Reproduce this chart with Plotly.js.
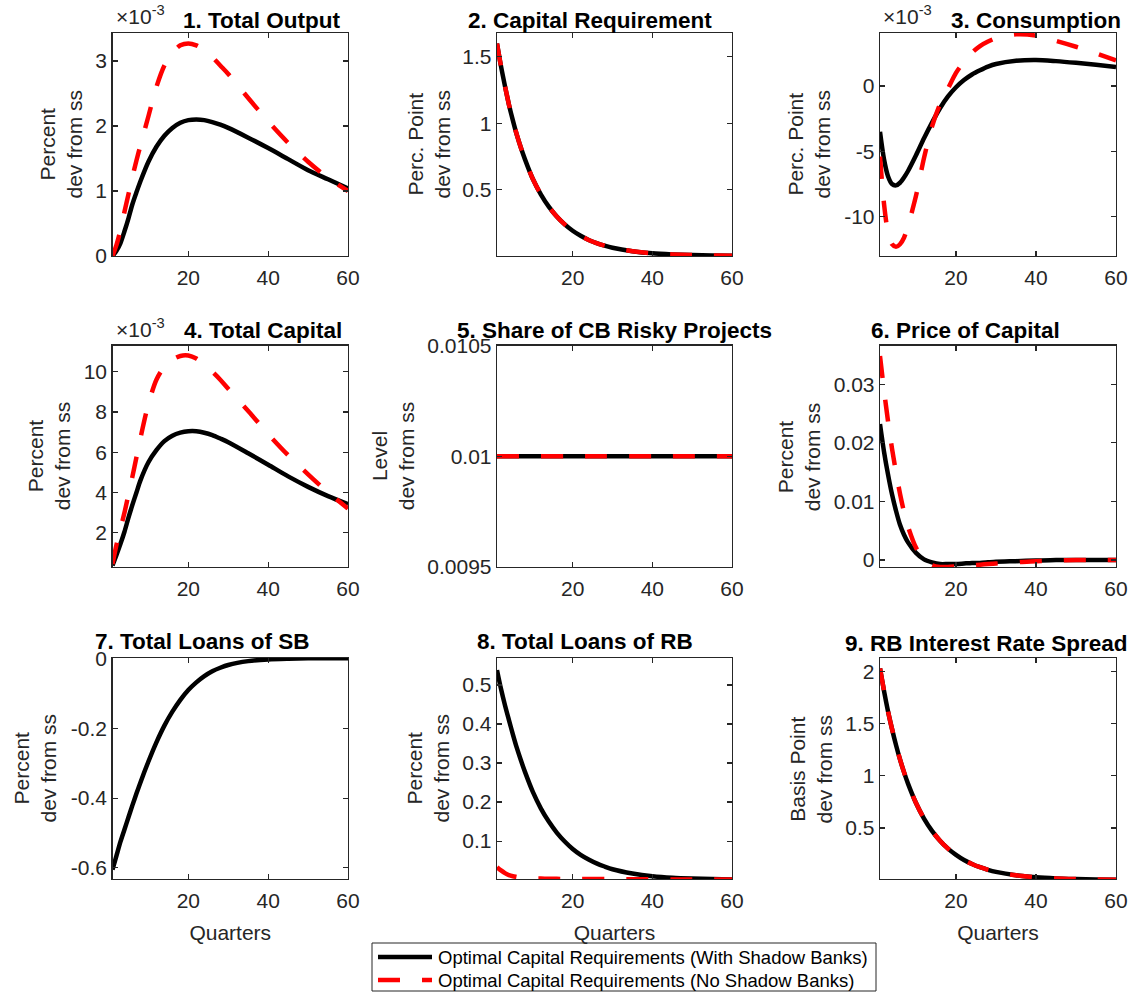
<!DOCTYPE html>
<html>
<head>
<meta charset="utf-8">
<script src="https://cdn.plot.ly/plotly-3.0.1.min.js"></script>
<style>html,body{margin:0;padding:0;background:#fff;}#chart{width:1133px;height:993px;}</style>
</head>
<body>
<div id="chart"></div>
<script>
// ---------------- DATA ----------------
const quarters = [1,2,3,4,5,6,7,8,10,12,14,16,18,20,22,24,26,28,30,35,40,45,50,55,60];

const seriesNames = ["Optimal Capital Requirements (With Shadow Banks)", "Optimal Capital Requirements (No Shadow Banks)"];

const panelTitles = ["1. Total Output","2. Capital Requirement","3. Consumption","4. Total Capital","5. Share of CB Risky Projects","6. Price of Capital","7. Total Loans of SB","8. Total Loans of RB","9. RB Interest Rate Spread"];
const yLabels = ["Percent<br>dev from ss","Perc. Point<br>dev from ss","Perc. Point<br>dev from ss","Percent<br>dev from ss","Level<br>dev from ss","Percent<br>dev from ss","Percent<br>dev from ss","Percent<br>dev from ss","Basis Point<br>dev from ss"];
const xLabel = "Quarters";
const xTickVals = [20,40,60];

// 1. Total Output (x 10^-3)
const outputWithSB = [0,0.08,0.2,0.38,0.58,0.8,0.98,1.15,1.45,1.68,1.85,1.97,2.05,2.09,2.1,2.09,2.06,2.02,1.97,1.82,1.66,1.49,1.32,1.18,1.04];
const outputNoSB   = [0,0.17,0.4,0.68,0.95,1.22,1.47,1.7,2.15,2.6,2.93,3.13,3.24,3.27,3.24,3.17,3.06,2.93,2.8,2.43,2.07,1.74,1.45,1.2,1.0];
// 2. Capital Requirement
const capReqWithSB = [1.6,1.43,1.28,1.14,1.02,0.91,0.815,0.73,0.58,0.465,0.372,0.297,0.238,0.19,0.152,0.121,0.097,0.078,0.062,0.036,0.02,0.012,0.007,0.004,0.002];
const capReqNoSB   = [1.6,1.43,1.28,1.14,1.02,0.91,0.815,0.73,0.58,0.465,0.372,0.297,0.238,0.19,0.152,0.121,0.097,0.078,0.062,0.036,0.02,0.012,0.007,0.004,0.002];
// 3. Consumption (x 10^-3)
const consWithSB = [-3.5,-5.6,-6.9,-7.5,-7.6,-7.4,-7.0,-6.5,-5.3,-4.0,-2.8,-1.7,-0.8,-0.1,0.45,0.88,1.2,1.48,1.68,1.93,1.99,1.9,1.77,1.62,1.45];
const consNoSB   = [-5.4,-9.0,-11.2,-12.1,-12.3,-12.1,-11.6,-10.7,-8.4,-5.5,-3.1,-1.4,-0.2,1.0,1.85,2.55,3.05,3.4,3.65,3.95,3.85,3.45,3.0,2.5,1.96];
// 4. Total Capital (x 10^-3)
const capitalWithSB = [0.38,0.9,1.45,2.05,2.75,3.4,4.0,4.6,5.5,6.1,6.55,6.82,6.97,7.04,7.04,6.97,6.85,6.68,6.5,5.95,5.38,4.8,4.28,3.82,3.42];
const capitalNoSB   = [0.45,1.4,2.2,3.0,3.9,4.8,5.75,6.7,8.4,9.6,10.25,10.6,10.78,10.8,10.65,10.35,10.0,9.6,9.15,8.05,6.9,5.85,4.9,4.0,3.2];
// 5. Share of CB Risky Projects
const shareWithSB = [0.01,0.01,0.01,0.01,0.01,0.01,0.01,0.01,0.01,0.01,0.01,0.01,0.01,0.01,0.01,0.01,0.01,0.01,0.01,0.01,0.01,0.01,0.01,0.01,0.01];
const shareNoSB   = [0.01,0.01,0.01,0.01,0.01,0.01,0.01,0.01,0.01,0.01,0.01,0.01,0.01,0.01,0.01,0.01,0.01,0.01,0.01,0.01,0.01,0.01,0.01,0.01,0.01];
// 6. Price of Capital
const priceWithSB = [0.0232,0.0185,0.0146,0.0112,0.0084,0.006,0.0043,0.003,0.0012,0.0001,-0.0004,-0.0007,-0.0007,-0.0007,-0.0006,-0.0005,-0.0005,-0.0004,-0.0003,-0.0002,-0.0001,0,0,0,0];
const priceNoSB   = [0.0348,0.029,0.0237,0.019,0.015,0.0113,0.0082,0.0057,0.0021,0.0001,-0.0009,-0.0012,-0.0012,-0.0011,-0.001,-0.0009,-0.0008,-0.0007,-0.0006,-0.0004,-0.0002,-0.0001,0,0,0];
// 7. Total Loans of SB (only with shadow banks)
const sbLoansWithSB = [-0.605,-0.565,-0.525,-0.49,-0.455,-0.42,-0.387,-0.355,-0.295,-0.24,-0.192,-0.152,-0.118,-0.09,-0.068,-0.05,-0.036,-0.026,-0.018,-0.007,-0.002,0,0.001,0.001,0.001];
// 8. Total Loans of RB
const rbLoansWithSB = [0.538,0.49,0.448,0.41,0.373,0.338,0.307,0.278,0.226,0.184,0.15,0.122,0.099,0.08,0.065,0.053,0.043,0.035,0.028,0.017,0.01,0.006,0.004,0.003,0.002];
const rbLoansNoSB   = [0.033,0.025,0.018,0.013,0.01,0.008,0.006,0.005,0.004,0.004,0.0035,0.0035,0.003,0.003,0.003,0.003,0.003,0.003,0.003,0.0025,0.0025,0.002,0.002,0.002,0.002];
// 9. RB Interest Rate Spread
const spreadWithSB = [2.03,1.815,1.62,1.45,1.295,1.157,1.035,0.925,0.739,0.59,0.472,0.377,0.301,0.241,0.192,0.154,0.123,0.098,0.078,0.045,0.026,0.015,0.009,0.005,0.003];
const spreadNoSB   = [2.03,1.815,1.62,1.45,1.295,1.157,1.035,0.925,0.739,0.59,0.472,0.377,0.301,0.241,0.192,0.154,0.123,0.098,0.078,0.045,0.026,0.015,0.009,0.005,0.003];

const panelSeries = [
  [outputWithSB, outputNoSB],
  [capReqWithSB, capReqNoSB],
  [consWithSB, consNoSB],
  [capitalWithSB, capitalNoSB],
  [shareWithSB, shareNoSB],
  [priceWithSB, priceNoSB],
  [sbLoansWithSB, null],
  [rbLoansWithSB, rbLoansNoSB],
  [spreadWithSB, spreadNoSB]
];

const yTickVals = [[0,1,2,3],[0.5,1,1.5],[-10,-5,0],[2,4,6,8,10],[0.0095,0.01,0.0105],[0,0.01,0.02,0.03],[-0.6,-0.4,-0.2,0],[0.1,0.2,0.3,0.4,0.5],[0.5,1,1.5,2]];
const yTickText = [["0","1","2","3"],["0.5","1","1.5"],["-10","-5","0"],["2","4","6","8","10"],["0.0095","0.01","0.0105"],["0","0.01","0.02","0.03"],["-0.6","-0.4","-0.2","0"],["0.1","0.2","0.3","0.4","0.5"],["0.5","1","1.5","2"]];
const yRanges = [[0,3.43],[0,1.68],[-13,4.05],[0.3,11.3],[0.0095,0.0105],[-0.0012,0.0366],[-0.632,0.002],[0.003,0.569],[0.01,2.13]];
const exponentPanels = [0,2,3];

// ---------------- LAYOUT ----------------
const W = 1133, H = 993;
const colPx = [[112.5,348],[497,732],[880,1116]];
const rowPx = [[33,256],[345.5,567],[658,879]];
const titlePos = [[262,20],[590,20],[1036,20],[263,331],[614,331],[965,331],[202,641],[585,641],[986,643]];
const yLabelX = [60,428,808,49,393,799,34,427,810];
const px = v => v / W;
const py = v => 1 - v / H;
const FONT = "Liberation Sans, Arial, Helvetica, sans-serif";
const AXC = "#262626";
const BLACK_LINE = {color: "#000000", width: 4.5};
const RED_LINE = {color: "#ff0000", width: 4.5, dash: "22px,22px"};

const data = [];
const layout = {
  width: W, height: H,
  margin: {l:0, r:0, t:0, b:0, autoexpand: false},
  paper_bgcolor: "#fff", plot_bgcolor: "#fff",
  font: {family: FONT, color: AXC},
  showlegend: false,
  annotations: [],
  shapes: []
};

for (let i = 0; i < 9; i++) {
  const r = Math.floor(i / 3), c = i % 3;
  const sfx = i === 0 ? "" : String(i + 1);
  const xa = "x" + sfx, ya = "y" + sfx;
  const bottomRow = r === 2;
  const xax = {
    domain: [px(colPx[c][0]), px(colPx[c][1])],
    anchor: ya, range: [1, 60],
    tickvals: xTickVals, ticktext: xTickVals.map(String),
    showline: true, linecolor: AXC, linewidth: 1.3, mirror: "ticks",
    ticks: "inside", ticklen: 5, tickwidth: 1.2, tickcolor: AXC,
    showgrid: false, zeroline: false, ticklabelstandoff: 2,
    tickfont: {family: FONT, size: 21, color: AXC}
  };
  if (bottomRow) xax.title = {text: xLabel, font: {family: FONT, size: 21, color: AXC}, standoff: 14};
  layout["xaxis" + sfx] = xax;
  layout["yaxis" + sfx] = {
    domain: [py(rowPx[r][1]), py(rowPx[r][0])],
    anchor: xa, range: yRanges[i],
    tickvals: yTickVals[i], ticktext: yTickText[i],
    showline: true, linecolor: AXC, linewidth: 1.3, mirror: "ticks",
    ticks: "inside", ticklen: 5, tickwidth: 1.2, tickcolor: AXC,
    showgrid: false, zeroline: false,
    tickfont: {family: FONT, size: 21, color: AXC}
  };
  const [blk, red] = panelSeries[i];
  data.push({
    x: quarters, y: blk, xaxis: xa, yaxis: ya, type: "scatter", mode: "lines",
    line: Object.assign({shape: "spline", smoothing: 0.8}, BLACK_LINE),
    name: seriesNames[0], showlegend: false, hoverinfo: "skip"
  });
  if (red) {
    data.push({
      x: quarters, y: red, xaxis: xa, yaxis: ya, type: "scatter", mode: "lines",
      line: Object.assign({shape: "spline", smoothing: 0.8}, RED_LINE),
      name: seriesNames[1], showlegend: false, hoverinfo: "skip"
    });
  }
  layout.annotations.push({
    xref: "paper", yref: "paper", x: px(titlePos[i][0]), y: py(titlePos[i][1]),
    xanchor: "center", yanchor: "middle", showarrow: false,
    text: "<b>" + panelTitles[i] + "</b>",
    font: {family: FONT, size: 22.5, color: "#000"}
  });
  layout.annotations.push({
    xref: "paper", yref: "paper", x: px(yLabelX[i]), y: py((rowPx[r][0] + rowPx[r][1]) / 2),
    xanchor: "center", yanchor: "middle", showarrow: false, textangle: -90,
    text: yLabels[i],
    font: {family: FONT, size: 21, color: AXC}
  });
  if (exponentPanels.includes(i)) {
    layout.annotations.push({
      xref: "paper", yref: "paper", x: px(colPx[c][0] + 1), y: py(rowPx[r][0] - 3),
      xanchor: "left", yanchor: "bottom", showarrow: false,
      text: "×10<sup>-3</sup>",
      font: {family: FONT, size: 21, color: AXC}
    });
  }
}

// ---------------- LEGEND (drawn in paper space) ----------------
const legBox = {x0: 372, x1: 876, y0: 943, y1: 991};
const legRows = [957, 980];
layout.shapes.push({type: "rect", xref: "paper", yref: "paper",
  x0: px(legBox.x0), x1: px(legBox.x1), y0: py(legBox.y0), y1: py(legBox.y1),
  line: {color: AXC, width: 1}, fillcolor: "#fff", layer: "above"});
[BLACK_LINE, RED_LINE].forEach((ln, k) => {
  layout.shapes.push({type: "line", xref: "paper", yref: "paper",
    x0: px(378), x1: px(432), y0: py(legRows[k]), y1: py(legRows[k]),
    line: ln, layer: "above"});
  layout.annotations.push({
    xref: "paper", yref: "paper", x: px(436), y: py(legRows[k]),
    xanchor: "left", yanchor: "middle", showarrow: false,
    text: seriesNames[k], font: {family: FONT, size: 18.5, color: "#000"}
  });
});

Plotly.newPlot("chart", data, layout, {staticPlot: true, displayModeBar: false});
</script>
</body>
</html>
